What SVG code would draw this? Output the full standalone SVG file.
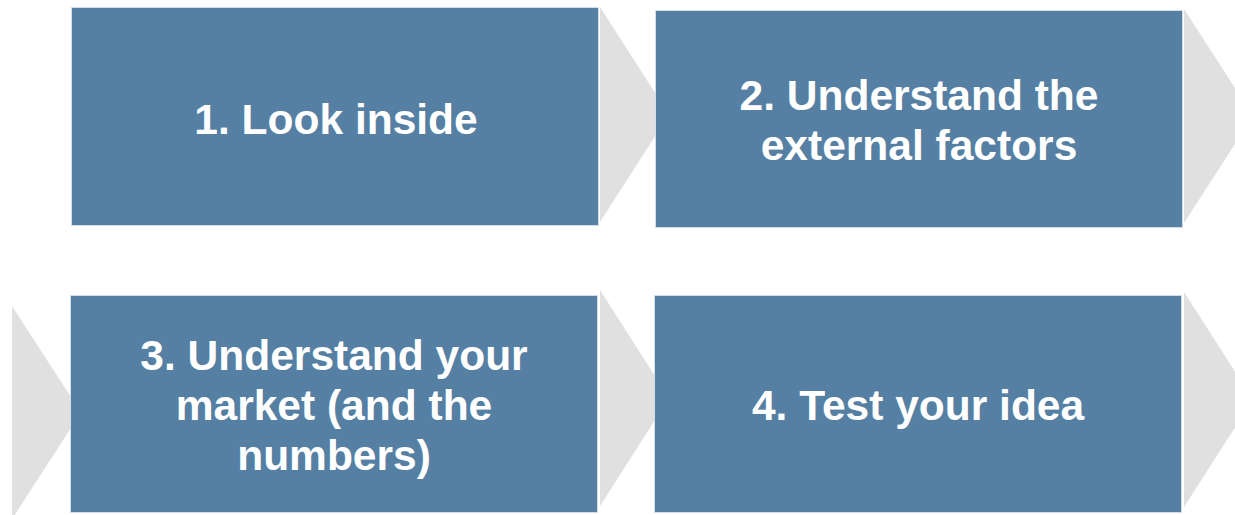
<svg xmlns="http://www.w3.org/2000/svg" width="1235" height="515" viewBox="0 0 1235 515">
  <style>
    .step { fill: #5580A3; stroke: #D3DEE8; stroke-width: 1; }
    .arrow { fill: #E0E0E0; stroke: none; }
    .label { fill: #FFFFFF; font-family: "Liberation Sans", Arial, sans-serif; font-weight: bold; font-size: 42.5px; text-anchor: middle; }
  </style>
  <rect width="1235" height="515" fill="#FFFFFF"/>

  <!-- chevron connectors between steps -->
  <g id="connectors">
    <polygon class="arrow" points="600,7 669,114.5 600,222"/>
    <polygon class="arrow" points="1184,9 1253,116 1184,223"/>
    <polygon class="arrow" points="12,306 81,412.5 12,519"/>
    <polygon class="arrow" points="600,290 669,398 600,506"/>
    <polygon class="arrow" points="1184,292 1253,399.5 1184,507"/>
  </g>

  <g id="step1">
    <rect class="step" x="71.5" y="7.5" width="527" height="218"/>
    <text class="label" x="336" y="134">1. Look inside</text>
  </g>

  <g id="step2">
    <rect class="step" x="655.5" y="10.5" width="527" height="217"/>
    <text class="label" x="919" y="110">2. Understand the</text>
    <text class="label" x="919" y="160">external factors</text>
  </g>

  <g id="step3">
    <rect class="step" x="70.5" y="295.5" width="527" height="217"/>
    <text class="label" x="334" y="370">3. Understand your</text>
    <text class="label" x="334" y="420">market (and the</text>
    <text class="label" x="334" y="470">numbers)</text>
  </g>

  <g id="step4">
    <rect class="step" x="654.5" y="295.5" width="527" height="217"/>
    <text class="label" x="918" y="420">4. Test your idea</text>
  </g>
</svg>
